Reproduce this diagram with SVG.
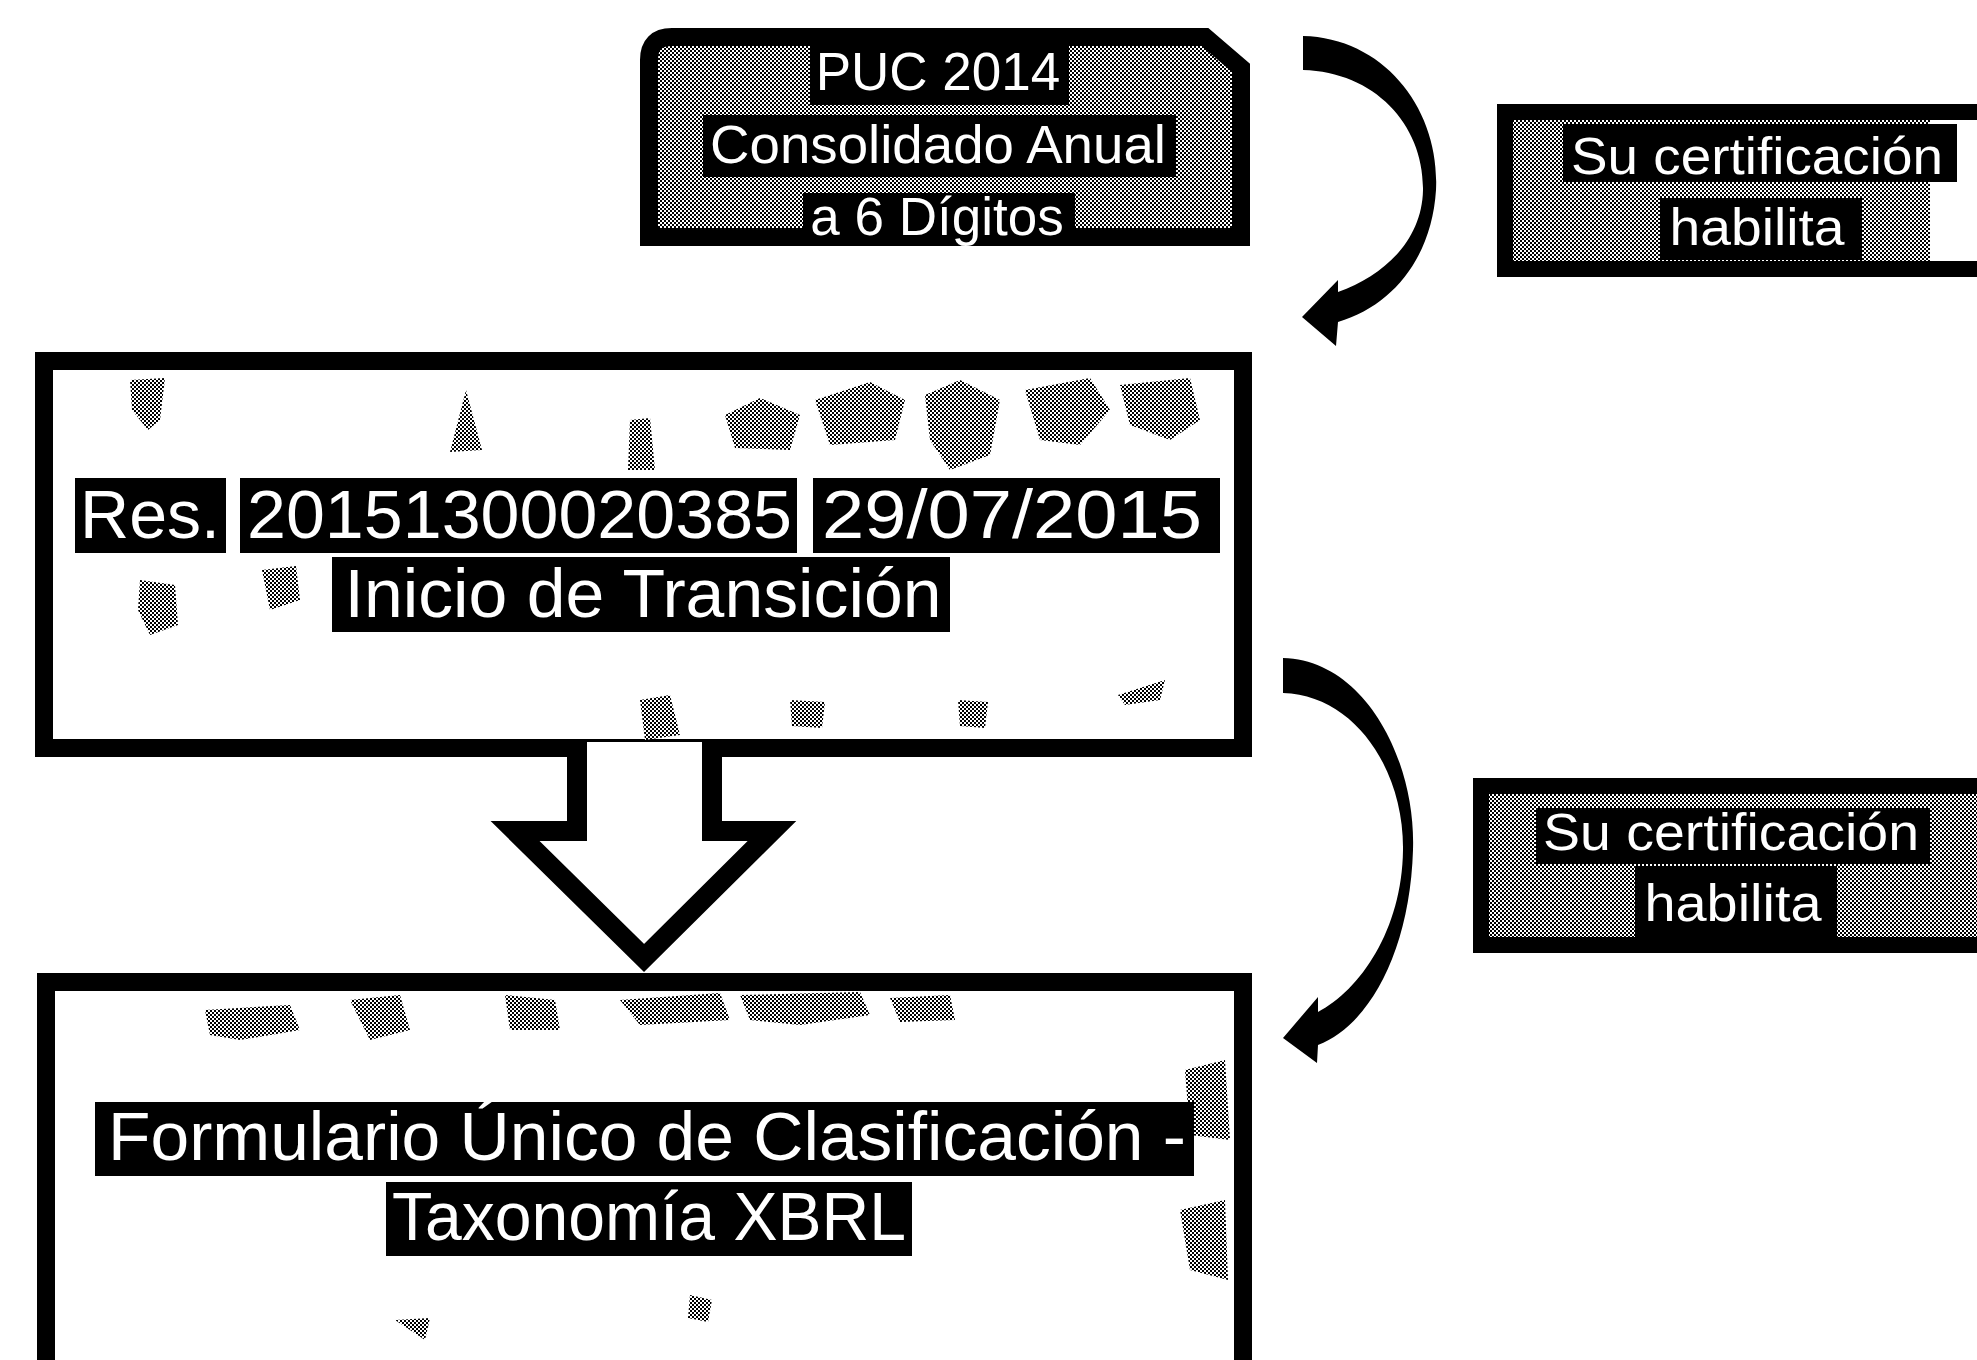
<svg xmlns="http://www.w3.org/2000/svg" width="1977" height="1360" viewBox="0 0 1977 1360">
<defs>
  <pattern id="ht" width="4" height="4" patternUnits="userSpaceOnUse">
    <rect width="4" height="4" fill="#ffffff"/>
    <rect x="0" y="0" width="2" height="2" fill="#000000"/>
    <rect x="2" y="2" width="2" height="2" fill="#000000"/>
  </pattern>
  <style>
    .box{stroke:#000;stroke-linejoin:miter}
    .gray{fill:url(#ht)}
    .white{fill:#fff}
    .hl{fill:#000}
    .blob{fill:url(#ht)}
    text{font-family:"Liberation Sans","Arial",sans-serif;fill:#fff}
    .t53{font-size:53px}
    .t52{font-size:52px}
    .t68{font-size:68px}
    .arrow{fill:#000}
  </style>
</defs>
<rect width="1977" height="1360" fill="#fff"/>

<g id="node-puc">
  <path class="box gray" stroke-width="18" d="M649,60 Q649,37 672,37 L1205,37 L1241,68 L1241,237 L649,237 Z"/>
  <rect class="hl" x="810" y="44" width="259" height="61"/>
  <rect class="hl" x="703" y="115" width="473" height="62"/>
  <rect class="hl" x="803" y="193" width="272" height="50"/>
  <text class="t53" x="938" y="90" text-anchor="middle">PUC 2014</text>
  <text class="t53" x="938" y="163" text-anchor="middle" textLength="456" lengthAdjust="spacingAndGlyphs">Consolidado Anual</text>
  <text class="t53" x="937" y="235" text-anchor="middle">a 6 Dígitos</text>
</g>

<g id="node-cert1">
  <rect class="box gray" stroke-width="16" x="1505" y="112" width="500" height="157"/>
  <rect class="white" x="1930" y="120" width="47" height="141"/>
  <rect class="hl" x="1563" y="124" width="394" height="58"/>
  <rect class="hl" x="1660" y="198" width="202" height="62"/>
  <text class="t52" x="1757" y="174" text-anchor="middle" textLength="372" lengthAdjust="spacingAndGlyphs">Su certificación</text>
  <text class="t52" x="1757" y="245" text-anchor="middle" textLength="175" lengthAdjust="spacingAndGlyphs">habilita</text>
</g>

<g id="node-res">
  <rect class="box white" stroke-width="18" x="44" y="361" width="1199" height="387"/>
  <path class="blob" d="M130,380 L165,378 L160,420 L148,430 L132,410 Z"/>
  <path class="blob" d="M140,580 L175,585 L178,625 L150,635 L138,610 Z"/>
  <path class="blob" d="M262,570 L296,566 L300,600 L270,610 Z"/>
  <path class="blob" d="M466,390 L482,450 L450,452 Z"/>
  <path class="blob" d="M630,420 L650,418 L655,470 L628,470 Z"/>
  <path class="blob" d="M725,415 L760,398 L800,415 L790,450 L735,448 Z"/>
  <path class="blob" d="M815,400 L870,382 L905,400 L895,440 L830,445 Z"/>
  <path class="blob" d="M925,395 L960,380 L1000,400 L990,455 L950,470 L930,440 Z"/>
  <path class="blob" d="M1025,390 L1090,378 L1110,410 L1080,445 L1040,440 Z"/>
  <path class="blob" d="M1120,385 L1190,378 L1200,420 L1170,440 L1130,425 Z"/>
  <path class="blob" d="M640,700 L670,695 L680,735 L645,740 Z"/>
  <path class="blob" d="M790,700 L825,702 L822,728 L792,726 Z"/>
  <path class="blob" d="M958,700 L988,702 L985,728 L960,726 Z"/>
  <path class="blob" d="M1118,695 L1165,680 L1160,700 L1125,705 Z"/>
  <rect class="hl" x="75" y="478" width="151" height="75"/>
  <rect class="hl" x="240" y="478" width="557" height="75"/>
  <rect class="hl" x="813" y="478" width="407" height="75"/>
  <rect class="hl" x="332" y="557" width="618" height="75"/>
  <text class="t68" x="80" y="538" textLength="140" lengthAdjust="spacingAndGlyphs">Res.</text>
  <text class="t68" x="247" y="538" textLength="545" lengthAdjust="spacingAndGlyphs">20151300020385</text>
  <text class="t68" x="822" y="538" textLength="380" lengthAdjust="spacingAndGlyphs">29/07/2015</text>
  <text class="t68" x="643" y="617" text-anchor="middle" textLength="597" lengthAdjust="spacingAndGlyphs">Inicio de Transición</text>
</g>

<g id="node-cert2">
  <rect class="box gray" stroke-width="16" x="1481" y="786" width="520" height="159"/>
  <rect class="hl" x="1536" y="808" width="394" height="56"/>
  <rect class="hl" x="1635" y="866" width="202" height="74"/>
  <text class="t52" x="1731" y="850" text-anchor="middle" textLength="376" lengthAdjust="spacingAndGlyphs">Su certificación</text>
  <text class="t52" x="1733" y="921" text-anchor="middle" textLength="177" lengthAdjust="spacingAndGlyphs">habilita</text>
</g>

<g id="node-formulario">
  <rect class="box white" stroke-width="18" x="46" y="982" width="1197" height="460"/>
  <path class="blob" d="M205,1010 L290,1005 L300,1030 L240,1040 L210,1035 Z"/>
  <path class="blob" d="M350,1000 L400,995 L410,1030 L370,1040 Z"/>
  <path class="blob" d="M505,995 L555,1000 L560,1030 L510,1030 Z"/>
  <path class="blob" d="M620,1000 L720,993 L730,1020 L640,1025 Z"/>
  <path class="blob" d="M740,995 L860,992 L870,1015 L800,1025 L750,1020 Z"/>
  <path class="blob" d="M890,998 L950,995 L955,1020 L900,1022 Z"/>
  <path class="blob" d="M1185,1070 L1225,1060 L1230,1140 L1190,1135 Z"/>
  <path class="blob" d="M1180,1210 L1225,1200 L1228,1280 L1190,1270 Z"/>
  <path class="blob" d="M395,1320 L430,1318 L425,1340 Z"/>
  <path class="blob" d="M690,1295 L712,1300 L708,1322 L688,1318 Z"/>
  <rect class="hl" x="95" y="1102" width="1099" height="74"/>
  <rect class="hl" x="386" y="1182" width="526" height="74"/>
  <text class="t68" x="647" y="1160" text-anchor="middle" textLength="1078" lengthAdjust="spacingAndGlyphs">Formulario Único de Clasificación -</text>
  <text class="t68" x="649" y="1240" text-anchor="middle" textLength="514" lengthAdjust="spacingAndGlyphs">Taxonomía XBRL</text>
</g>

<g id="connectors">
  <path class="arrow" d="M1303,36 C1385,38 1440,110 1436,190 C1432,255 1395,305 1338,322 L1336,346 L1302,317 L1338,280 L1338,292 C1385,275 1422,240 1423,190 C1424,125 1375,72 1303,70 Z"/>
  <path class="arrow" d="M1283,658 C1365,660 1416,760 1413,850 C1410,950 1370,1025 1318,1045 L1317,1063 L1283,1038 L1318,997 L1318,1012 C1360,990 1402,930 1403,850 C1404,770 1355,695 1283,693 Z"/>
  <polygon fill="#fff" points="577,742 577,831 515,831 644,958 772,831 712,831 712,742"/>
  <path fill="none" stroke="#000" stroke-width="20" stroke-linejoin="miter" d="M577,742 L577,831 L515,831 L644,958 L772,831 L712,831 L712,742"/>
</g>
</svg>
